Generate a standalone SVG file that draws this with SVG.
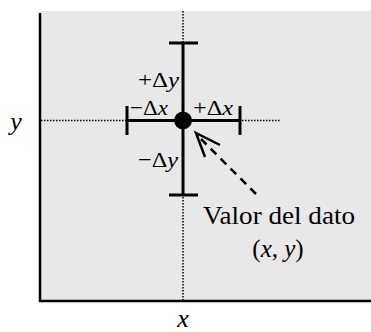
<svg xmlns="http://www.w3.org/2000/svg" width="371" height="332" viewBox="0 0 371 332">
<style>
.t{font-family:"Liberation Serif","Times New Roman",serif;fill:#000}
.i{font-style:italic}
.dot{stroke:#000;stroke-width:1.5;stroke-dasharray:1.5 1.5;fill:none}
.bar{stroke:#000;stroke-width:3;fill:none}
.ax{stroke:#000;stroke-width:2.5;fill:none}
</style>
<g id="plot">
<rect x="40" y="11" width="331" height="290" fill="#e8e8e8"/>
<line class="ax" x1="40" y1="13" x2="40" y2="302"/>
<line class="ax" x1="39" y1="301" x2="371" y2="301"/>
<text class="t i" x="16" y="130" font-size="26" text-anchor="middle">y</text>
<text class="t i" x="183" y="327" font-size="26" text-anchor="middle">x</text>
</g>
<g id="guides">
<line class="dot" x1="183" y1="11" x2="183" y2="300"/>
<line class="dot" x1="41" y1="120.5" x2="281" y2="120.5"/>
</g>
<g id="errorbars">
<line class="bar" x1="183" y1="43" x2="183" y2="195"/>
<line class="bar" x1="169" y1="43" x2="198" y2="43"/>
<line class="bar" x1="169" y1="195" x2="198" y2="195"/>
<line class="bar" x1="127" y1="120.5" x2="240" y2="120.5"/>
<line class="bar" x1="127" y1="106" x2="127" y2="135"/>
<line class="bar" x1="240" y1="106" x2="240" y2="135"/>
<circle cx="183" cy="120.5" r="9" fill="#000"/>
<text class="t" x="138" y="87" font-size="22" textLength="41" lengthAdjust="spacingAndGlyphs">+Δ<tspan class="i">y</tspan></text>
<text class="t" x="130" y="115" font-size="22" textLength="38" lengthAdjust="spacingAndGlyphs">−Δ<tspan class="i">x</tspan></text>
<text class="t" x="193" y="115" font-size="22" textLength="40" lengthAdjust="spacingAndGlyphs">+Δ<tspan class="i">x</tspan></text>
<text class="t" x="138" y="167" font-size="22" textLength="40" lengthAdjust="spacingAndGlyphs">−Δ<tspan class="i">y</tspan></text>
</g>
<g id="connectors">
<line x1="256" y1="194" x2="201" y2="139" stroke="#000" stroke-width="2.5" stroke-dasharray="8 6"/>
<polyline points="220,145 196,133 205,157" fill="none" stroke="#000" stroke-width="2.5"/>
</g>
<g id="label">
<text class="t" x="203" y="224" font-size="25" textLength="152" lengthAdjust="spacingAndGlyphs">Valor del dato</text>
<text class="t" x="278" y="257" font-size="25" text-anchor="middle">(<tspan class="i">x</tspan>, <tspan class="i">y</tspan>)</text>
</g>
</svg>
